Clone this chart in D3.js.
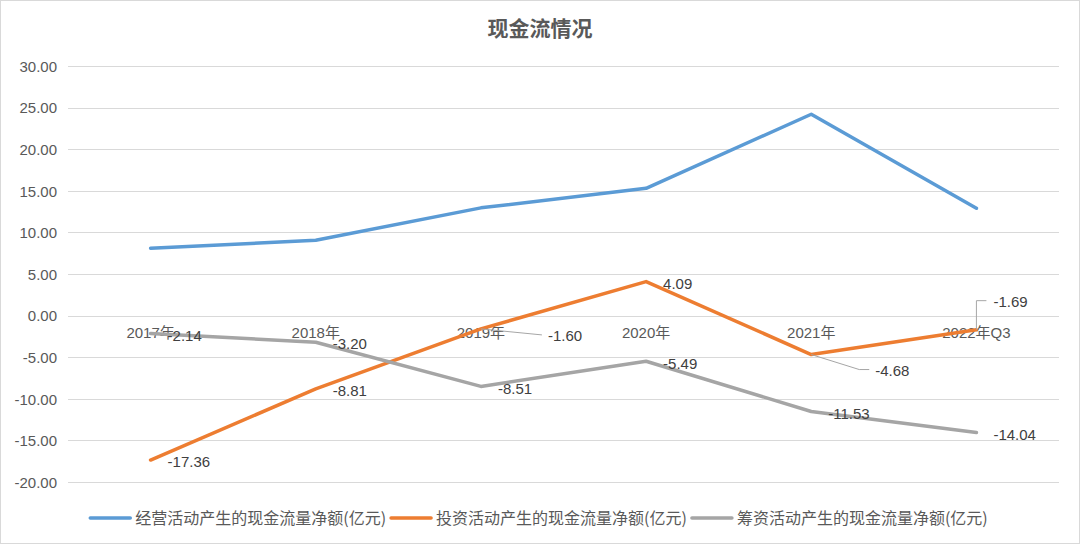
<!DOCTYPE html>
<html>
<head>
<meta charset="utf-8">
<script src="https://cdn.jsdelivr.net/npm/d3@7/dist/d3.min.js"></script>
<style>
  html, body { margin: 0; padding: 0; background: #fff; }
  svg { display: block; }
</style>
</head>
<body>
<div id="chart"></div>
<script>
// 数据
const categories = ["2017年", "2018年", "2019年", "2020年", "2021年", "2022年Q3"];
const seriesNames = [
    "经营活动产生的现金流量净额(亿元)",
    "投资活动产生的现金流量净额(亿元)",
    "筹资活动产生的现金流量净额(亿元)"
];
const operating = [8.10, 9.05, 12.95, 15.30, 24.20, 12.90];
const investing = [-17.36, -8.81, -1.60, 4.09, -4.68, -1.69];
const financing = [-2.14, -3.20, -8.51, -5.49, -11.53, -14.04];
const yTicks = [30, 25, 20, 15, 10, 5, 0, -5, -10, -15, -20];

const colors = ["#5b9bd5", "#ed7d31", "#a5a5a5"];

const width = 1080, height = 546;
const margin = { left: 68, right: 21, top: 66, bottom: 64 };

// 用普通连字符代替 d3 的 unicode 减号
const fmt = v => d3.format(".2f")(v).replace("\u2212", "-");

const svg = d3.select("#chart").append("svg")
    .attr("width", width)
    .attr("height", height);

// 外框
svg.append("rect")
    .attr("x", 0.5).attr("y", 0.5)
    .attr("width", width - 1).attr("height", height - 3)
    .attr("fill", "#fff")
    .attr("stroke", "#d9d9d9");

// 标题
svg.append("text")
    .attr("x", 540).attr("y", 36)
    .attr("text-anchor", "middle")
    .attr("font-family", "'Noto Sans CJK SC', sans-serif")
    .attr("font-size", 21)
    .attr("font-weight", "bold")
    .attr("fill", "#595959")
    .text("现金流情况");

const x = d3.scaleBand()
    .domain(categories)
    .range([margin.left, width - margin.right]);

const y = d3.scaleLinear()
    .domain([-20, 30])
    .range([height - margin.bottom, margin.top]);

const cx = d => x(d) + x.bandwidth() / 2;

// 网格线
svg.append("g")
    .selectAll("line")
    .data(yTicks)
    .enter()
    .append("line")
    .attr("x1", margin.left)
    .attr("x2", width - margin.right)
    .attr("y1", d => Math.round(y(d)) + 0.5)
    .attr("y2", d => Math.round(y(d)) + 0.5)
    .attr("stroke", "#d9d9d9")
    .attr("stroke-width", 1);

// Y轴刻度
const yAxis = d3.axisLeft(y)
    .tickValues(yTicks)
    .tickFormat(fmt)
    .tickSize(0)
    .tickPadding(0);

const yg = svg.append("g")
    .attr("transform", `translate(${margin.left - 11},0)`)
    .call(yAxis);
yg.select(".domain").remove();
yg.selectAll("text")
    .attr("font-family", "'Liberation Sans', Arial, sans-serif")
    .attr("font-size", 15)
    .attr("fill", "#595959")
    .attr("dy", "0.35em");

// 分类标签 (贴在零轴下方)
svg.append("g")
    .selectAll("text")
    .data(categories)
    .enter()
    .append("text")
    .attr("x", d => cx(d))
    .attr("y", y(0) + 22)
    .attr("text-anchor", "middle")
    .attr("font-family", "'Liberation Sans', 'Noto Sans CJK SC', sans-serif")
    .attr("font-size", 15)
    .attr("fill", "#595959")
    .text(d => d);

const series = [operating, investing, financing];

const line = d3.line()
    .x((d, i) => cx(categories[i]))
    .y(d => y(d));

// 折线
series.forEach((values, s) => {
    svg.append("path")
        .datum(values)
        .attr("fill", "none")
        .attr("stroke", colors[s])
        .attr("stroke-width", 3.5)
        .attr("stroke-linejoin", "round")
        .attr("stroke-linecap", "round")
        .attr("d", line);
});

// 数据标签 (只有投资和筹资)
const labelFont = "'Liberation Sans', Arial, sans-serif";
// 引导线标签的偏移
const leader = {
    "1-2": { dx: 67, dy: 7, path: (px, py) => `M${px},${py}L${px + 61},${py + 6}` },
    "1-4": { dx: 64, dy: 16, path: (px, py) => `M${px},${py}L${px + 48},${py + 15}L${px + 58},${py + 15}` },
    "1-5": { dx: 17, dy: -28, path: (px, py) => `M${px},${py}L${px},${py - 29}L${px + 10},${py - 29}` }
};

[1, 2].forEach(s => {
    series[s].forEach((v, i) => {
        const px = cx(categories[i]);
        const py = y(v);
        const key = s + "-" + i;
        let dx = 17, dy = 2;
        if (leader[key]) {
            dx = leader[key].dx;
            dy = leader[key].dy;
            svg.append("path")
                .attr("d", leader[key].path(px, py))
                .attr("fill", "none")
                .attr("stroke", "#a6a6a6")
                .attr("stroke-width", 1);
        }
        svg.append("text")
            .attr("x", px + dx)
            .attr("y", py + dy)
            .attr("dy", "0.35em")
            .attr("font-family", labelFont)
            .attr("font-size", 15)
            .attr("fill", "#404040")
            .text(fmt(v));
    });
});

// 图例
const legend = svg.append("g");
let lx = 0;
seriesNames.forEach((name, s) => {
    const g = legend.append("g");
    g.append("line")
        .attr("x1", 0).attr("x2", 40)
        .attr("y1", 0).attr("y2", 0)
        .attr("stroke", colors[s])
        .attr("stroke-width", 3.5)
        .attr("stroke-linecap", "round");
    const t = g.append("text")
        .attr("x", 45)
        .attr("y", 0)
        .attr("dy", "0.35em")
        .attr("font-family", "'Noto Sans CJK SC', sans-serif")
        .attr("font-size", 16)
        .attr("fill", "#595959")
        .text(name);
    g.attr("transform", `translate(${lx},0)`);
    lx += 45 + t.node().getComputedTextLength() + 5;
});
const legendW = lx - 5;
legend.attr("transform", `translate(${539 - legendW / 2},518)`);
</script>
</body>
</html>
